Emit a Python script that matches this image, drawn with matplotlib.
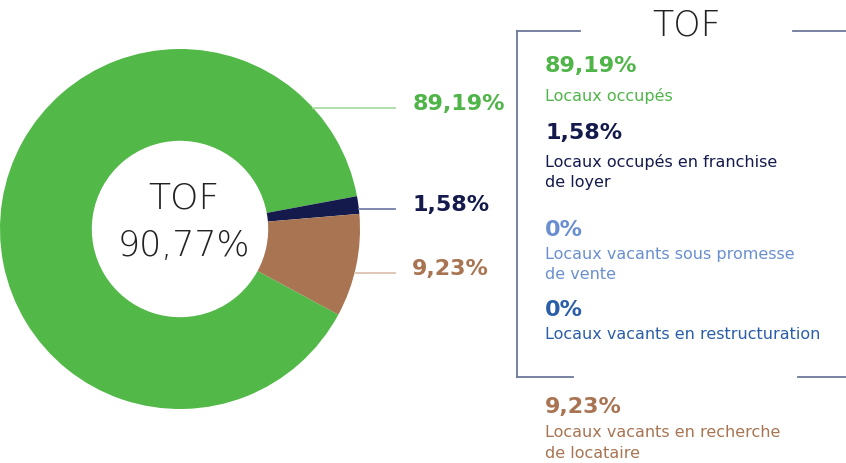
import matplotlib.pyplot as plt
from matplotlib.lines import Line2D
import numpy as np

# data
categories = ["Locaux occupés", "Locaux occupés en franchise\nde loyer",
              "Locaux vacants sous promesse\nde vente", "Locaux vacants en restructuration",
              "Locaux vacants en recherche\nde locataire"]
values = [89.19, 1.58, 0.0, 0.0, 9.23]
pct_labels = ["89,19%", "1,58%", "0%", "0%", "9,23%"]
colors = ["#52b848", "#141a4c", "#6a8fd0", "#2a5ea8", "#a87452"]
text_colors = ["#4fb548", "#141a4c", "#6a8fd0", "#2a5ea8", "#a87452"]
line_colors = ["#a9dba4", "#7480a8", None, None, "#dcc3b2"]
tof_value = "90,77%"

W, H = 846, 464
plt.rcParams['font.family'] = ['DejaVu Sans']

fig = plt.figure(figsize=(W / 100, H / 100), dpi=100)


def fx(x):
    return x / W


def fy(y):
    return 1 - y / H


# donut, centre (180, 230) px, radius 180 px
cx, cy, r = 180, 230, 180
ax = fig.add_axes([fx(cx - r), fy(cy + r), 2 * r / W, 2 * r / H])
ax.pie(values, colors=colors, startangle=331.6, counterclock=False,
       radius=1, wedgeprops=dict(width=0.51, linewidth=0))
ax.set_xlim(-1, 1)
ax.set_ylim(-1, 1)
ax.set_aspect('equal')
ax.axis('off')

ax.text(0.02, (cy - 199) / r, "TOF", ha='center', va='center', fontsize=26,
        fontweight='light', color='#222222')
ax.text(0.02, (cy - 246) / r, tof_value, ha='center', va='center', fontsize=25,
        fontweight='light', color='#222222')

# outside labels with leader lines
label_y = {0: 109, 1: 210, 4: 274}
for i, ypx in label_y.items():
    yd = (cy - ypx) / r
    x0 = np.sqrt(1 - yd ** 2)
    ax.plot([x0, 1.195], [yd, yd], color=line_colors[i], lw=1.3, clip_on=False)
    ax.text(1.29, yd + 0.027, pct_labels[i], ha='left', va='center', fontsize=16,
            fontweight='bold', color=text_colors[i])

# bracket around legend
bc = "#6d7898"
for xs, ys in [([517, 517], [32, 378]), ([517, 580], [32, 32]), ([793, 846], [32, 32]),
               ([517, 573], [378, 378]), ([798, 846], [378, 378])]:
    fig.add_artist(Line2D([fx(x) for x in xs], [fy(y) for y in ys], color=bc, lw=1.3))
fig.text(fx(687), fy(25), "TOF", ha='center', va='center', fontsize=25,
         fontweight='light', color='#222222')

# legend entries
pct_y = [66, 133, 230, 310, 407]
name_y = [96, 162, 254, 335, 433]
for i in range(len(categories)):
    fig.text(fx(545), fy(pct_y[i]), pct_labels[i], ha='left', va='center', fontsize=16,
             fontweight='bold', color=text_colors[i])
    for k, line in enumerate(categories[i].split("\n")):
        fig.text(fx(545), fy(name_y[i] + 21 * k), line, ha='left', va='center',
                 fontsize=11.5, color=text_colors[i])

fig.savefig("out.png", dpi=100)
